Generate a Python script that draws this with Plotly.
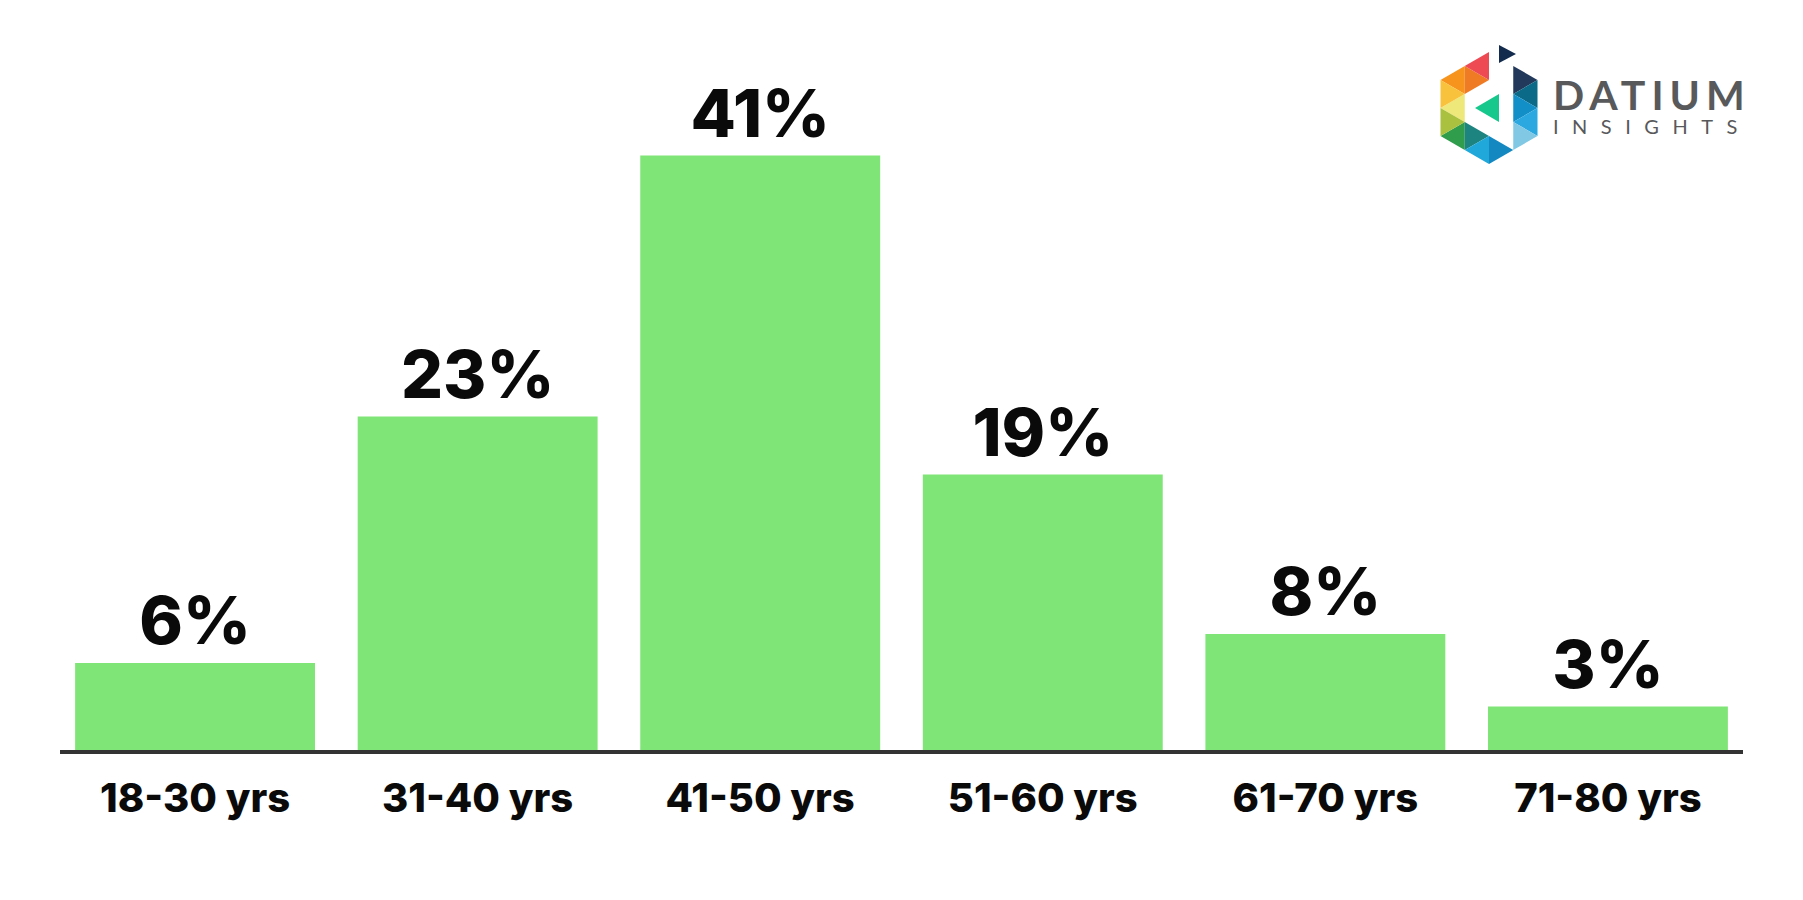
import plotly.graph_objects as go

# ---- data ----
categories = ["18-30 yrs", "31-40 yrs", "41-50 yrs", "51-60 yrs", "61-70 yrs", "71-80 yrs"]
values = [6, 23, 41, 19, 8, 3]
value_labels = ["6%", "23%", "41%", "19%", "8%", "3%"]

# page is rendered with an 8px body margin; compensate
OFF = 8
W, H = 1803 - OFF, 900 - OFF
ML, MT = 52, 92
PW, PH = 1683, 650
MR, MB = W - ML - PW, H - MT - PH

BAR_COLOR = "#7FE576"

fig = go.Figure(go.Bar(
    x=categories, y=values,
    text=value_labels, textposition="outside",
    textfont=dict(family="Inter", size=66, color="#0a0a0a", weight=800),
    marker=dict(color=BAR_COLOR, line=dict(width=0)),
    cliponaxis=False, constraintext="none",
    hoverinfo="skip",
))

fig.update_layout(
    width=W, height=H,
    margin=dict(l=ML, r=MR, t=MT, b=MB),
    paper_bgcolor="white", plot_bgcolor="white",
    bargap=0.151, showlegend=False,
    font=dict(family="Inter"),
)
fig.update_xaxes(
    range=[-0.478, 5.478], showline=True, linecolor="#333333", linewidth=3.5,
    showgrid=False, zeroline=False, ticks="",
    tickfont=dict(family="Inter", size=40, color="#0a0a0a", weight=800),
    ticklabelstandoff=10,
)
fig.update_yaxes(range=[0, PH / 14.5], visible=False, showgrid=False, zeroline=False)


# ---- logo (drawn with shapes; page pixel coords converted to paper) ----
def px(x):
    return (x - OFF - ML) / PW


def py(y):
    return (MT + PH - (y - OFF)) / PH


cx, cy, cw, cs = 1489, 108, 24.25, 28


def P(k, j):
    return (cx + (k - 2) * cw, cy + j * cs)


def tri(pts, color):
    d = "M " + " L ".join(f"{px(x):.5f},{py(y):.5f}" for x, y in pts) + " Z"
    fig.add_shape(type="path", path=d, xref="paper", yref="paper",
                  fillcolor=color, line=dict(width=0), layer="above")


logo_tris = [
    ((P(1, -1.5), P(1, -0.5), P(0, -1)), "#F7941E"),
    ((P(1, -0.5), P(1, 0.5), P(0, 0)), "#EEE87A"),
    ((P(1, 0.5), P(1, 1.5), P(0, 1)), "#2F9D4B"),
    ((P(0, -1), P(0, 0), P(1, -0.5)), "#F9C23C"),
    ((P(0, 0), P(0, 1), P(1, 0.5)), "#AAC03F"),
    ((P(1, -1.5), P(1, -0.5), P(2, -1)), "#EF7B25"),
    ((P(1, 0.5), P(1, 1.5), P(2, 1)), "#1D8480"),
    ((P(2, -2), P(2, -1), P(1, -1.5)), "#EE4A54"),
    ((P(2, 1), P(2, 2), P(1, 1.5)), "#1FA8D9"),
    ((P(2, 1), P(2, 2), P(3, 1.5)), "#1489C1"),
    ((P(3, -1.5), P(3, -0.5), P(4, -1)), "#22395C"),
    ((P(4, -1), P(4, 0), P(3, -0.5)), "#0A6A87"),
    ((P(3, -0.5), P(3, 0.5), P(4, 0)), "#138FC8"),
    ((P(4, 0), P(4, 1), P(3, 0.5)), "#2BA8E0"),
    ((P(3, 0.5), P(3, 1.5), P(4, 1)), "#80C8E4"),
    (((1475, 108), (1499, 94), (1499, 122)), "#17C88C"),
    (((1499, 45), (1499, 63), (1516, 54)), "#132B4D"),
]
for pts, col in logo_tris:
    tri(pts, col)

LOGO_GREY = "#58595B"
logo_text = ('<span style="font-size:41px;font-weight:700;letter-spacing:6px">DATIUM</span>'
             '<br><span style="font-size:20px;letter-spacing:13.5px">INSIGHTS</span>')
fig.add_annotation(text=logo_text, align="left",
                   x=px(1551), y=py(104), xref="paper", yref="paper",
                   xanchor="left", yanchor="middle", showarrow=False,
                   font=dict(family="Lato", size=18.5, color=LOGO_GREY))

fig.write_html("out.html")
